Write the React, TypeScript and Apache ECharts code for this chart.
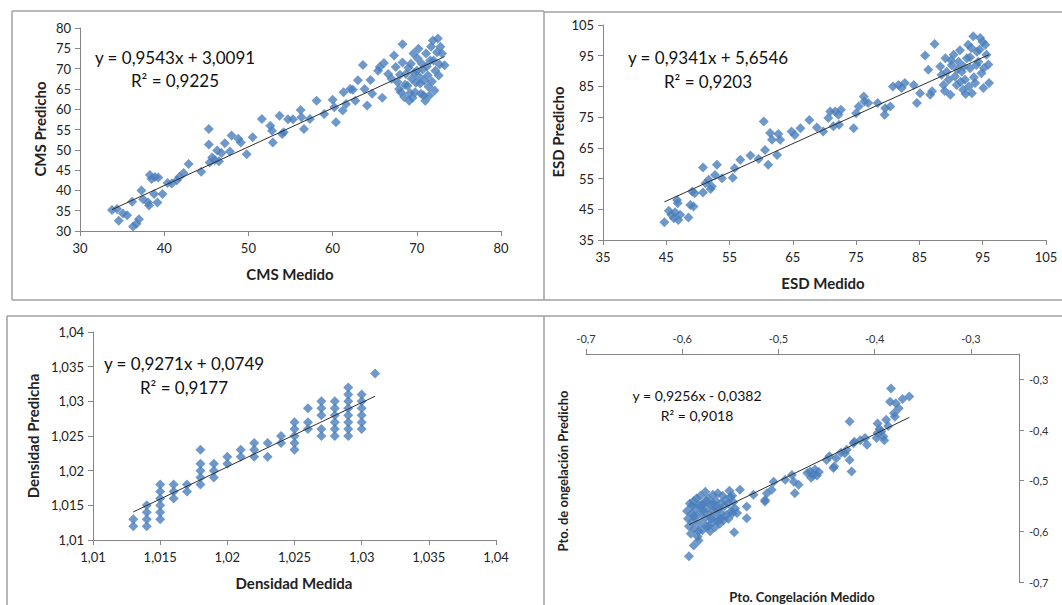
import React, { useEffect, useRef } from "react";
import * as echarts from "echarts";

// ---------- Panel 1: CMS (Medido, Predicho) ----------
const cmsPoints: number[][] = [
  [33.8, 35.2], [34.4, 35.4], [34.6, 32.5], [35.1, 34.3], [35.6, 33.9], [36.2, 37.2], [36.3, 31.1], [36.7, 31.8],
  [37.0, 32.9], [37.3, 40.0], [37.5, 37.8], [38.1, 37.0], [38.2, 36.3], [38.3, 43.8], [38.5, 42.8], [38.8, 39.1],
  [38.9, 43.3], [39.2, 37.0], [39.3, 43.2], [39.8, 39.1], [40.4, 41.8], [40.9, 41.7], [41.5, 42.5], [41.8, 43.3],
  [42.3, 44.3], [42.9, 46.5], [44.4, 44.6], [45.3, 55.1], [45.3, 51.3], [45.4, 46.9], [45.7, 48.1], [46.0, 47.5],
  [46.3, 49.8], [46.5, 47.2], [46.8, 49.2], [47.2, 51.6], [47.8, 49.6], [48.0, 53.5], [48.8, 52.7], [49.1, 51.8],
  [49.8, 48.9], [50.5, 53.1], [51.6, 57.6], [52.6, 55.9], [52.8, 54.7], [52.9, 51.8], [53.7, 58.4], [54.0, 53.9],
  [54.2, 54.3], [54.7, 57.5], [55.3, 57.5], [56.2, 59.8], [56.3, 58.0], [56.6, 55.1], [57.3, 57.6], [58.1, 62.1],
  [59.0, 58.8], [60.0, 62.3], [60.2, 60.5], [60.4, 56.8], [61.2, 59.7], [61.3, 64.2], [61.6, 61.3], [62.1, 65.0],
  [62.4, 64.8], [62.7, 62.1], [63.0, 67.1], [63.6, 70.9], [63.8, 65.0], [64.1, 60.9], [64.5, 67.2], [64.7, 63.8],
  [65.4, 69.5], [65.6, 70.4], [65.9, 62.8], [66.1, 71.4], [66.6, 68.7], [67.0, 67.5], [67.3, 73.2], [68.3, 76.0],
  [67.5, 70.4], [67.7, 66.7], [67.9, 65.0], [68.1, 64.2], [68.0, 68.5], [68.3, 71.5], [68.5, 63.0], [68.6, 66.0],
  [68.7, 68.7], [68.9, 65.8], [69.0, 70.2], [69.1, 62.1], [69.2, 64.0], [69.3, 71.2], [69.4, 67.5], [69.5, 62.8],
  [69.6, 73.7], [69.7, 69.0], [69.8, 64.2], [69.9, 66.5], [70.0, 69.5], [70.1, 72.5], [70.2, 74.9], [70.3, 68.0],
  [70.4, 66.3], [70.5, 63.8], [70.6, 71.2], [70.7, 69.8], [70.8, 63.4], [70.9, 67.0], [71.0, 62.1], [71.1, 73.7],
  [71.2, 70.5], [71.3, 68.3], [71.4, 65.5], [71.5, 63.4], [71.6, 72.0], [71.7, 75.4], [71.8, 66.8], [71.9, 76.9],
  [72.0, 72.0], [72.1, 64.6], [72.2, 69.5], [72.4, 74.0], [72.5, 77.4], [72.6, 68.3], [72.8, 75.4], [73.0, 73.7],
  [73.3, 70.8], [72.7, 71.0],
];

// ---------- Panel 2: ESD ----------
const esdPoints: number[][] = [
  [44.7, 40.8], [45.4, 44.5], [45.8, 43.2], [46.2, 42.1], [46.4, 44.0], [46.7, 48.0], [46.8, 47.0], [46.9, 41.5],
  [47.2, 43.2], [48.5, 42.3], [48.8, 46.4], [49.3, 45.9], [49.1, 50.8], [49.5, 50.2], [50.8, 58.6], [50.8, 50.5],
  [51.2, 53.5], [51.7, 54.6], [52.0, 51.6], [52.2, 52.4], [53.0, 59.5], [52.7, 56.2], [53.8, 55.1], [55.5, 55.3],
  [55.8, 58.4], [56.7, 61.1], [58.3, 62.5], [59.6, 61.4], [60.4, 73.6], [60.6, 64.3], [61.1, 59.5], [61.4, 69.8],
  [61.7, 67.6], [62.5, 62.7], [62.7, 69.5], [63.0, 67.6], [64.8, 70.3], [65.3, 69.2], [66.2, 71.4], [67.6, 74.1],
  [68.8, 71.6], [69.8, 70.3], [70.6, 74.7], [70.9, 76.8], [71.4, 72.0], [71.7, 76.8], [72.2, 75.8], [72.6, 77.4],
  [72.3, 72.5], [74.6, 71.4], [75.0, 76.3], [75.4, 78.5], [76.2, 81.7], [76.3, 80.1], [76.9, 79.6], [78.4, 79.6],
  [79.5, 75.8], [79.6, 77.9], [80.4, 78.5], [80.8, 85.0], [81.7, 85.5], [82.2, 84.5], [82.7, 86.1], [84.1, 85.5],
  [84.6, 79.6], [85.1, 82.8], [85.9, 95.1], [86.7, 82.3], [87.0, 83.4], [87.4, 98.8], [86.4, 90.4],
  [88.3, 91.5], [88.5, 88.8], [88.8, 85.5], [89.1, 94.2], [89.3, 89.8], [89.6, 87.2], [89.9, 82.3], [90.1, 91.9],
  [90.4, 95.3], [90.6, 88.2], [90.9, 85.5], [91.2, 93.0], [91.4, 96.8], [91.7, 89.8], [91.9, 83.9], [92.2, 87.2],
  [92.5, 94.2], [92.7, 98.6], [93.0, 90.9], [93.3, 82.8], [93.5, 101.3], [93.8, 86.1], [94.1, 96.3], [94.3, 93.0],
  [94.6, 100.8], [94.8, 89.3], [95.1, 84.5], [95.4, 98.6], [95.6, 95.3], [95.9, 92.1], [96.0, 86.1], [91.0, 90.5],
  [92.0, 91.5], [93.0, 94.5], [93.6, 88.0], [94.0, 92.0], [92.8, 85.0], [91.5, 86.5], [90.0, 93.5], [94.5, 97.0],
  [95.2, 91.0], [93.2, 97.5], [89.0, 83.5], [92.3, 82.5], [95.0, 99.5],
];

// ---------- Panel 3: Densidad ----------
const densPoints: number[][] = [
  [1.013, 1.013], [1.013, 1.012],
  [1.014, 1.015], [1.014, 1.014], [1.014, 1.013], [1.014, 1.012],
  [1.015, 1.018], [1.015, 1.017], [1.015, 1.016], [1.015, 1.015], [1.015, 1.014], [1.015, 1.013],
  [1.016, 1.018], [1.016, 1.017], [1.016, 1.016],
  [1.017, 1.018], [1.017, 1.017],
  [1.018, 1.023], [1.018, 1.021], [1.018, 1.020], [1.018, 1.019], [1.018, 1.018],
  [1.019, 1.021], [1.019, 1.020], [1.019, 1.019],
  [1.020, 1.022], [1.020, 1.021],
  [1.021, 1.023], [1.021, 1.022],
  [1.022, 1.024], [1.022, 1.023], [1.022, 1.022],
  [1.023, 1.024], [1.023, 1.022],
  [1.024, 1.025], [1.024, 1.024],
  [1.025, 1.027], [1.025, 1.026], [1.025, 1.025], [1.025, 1.024], [1.025, 1.023],
  [1.026, 1.029], [1.026, 1.027], [1.026, 1.026],
  [1.027, 1.030], [1.027, 1.029], [1.027, 1.028], [1.027, 1.026], [1.027, 1.025],
  [1.028, 1.030], [1.028, 1.029], [1.028, 1.028], [1.028, 1.027], [1.028, 1.026], [1.028, 1.025],
  [1.029, 1.032], [1.029, 1.031], [1.029, 1.030], [1.029, 1.029], [1.029, 1.028], [1.029, 1.027], [1.029, 1.026], [1.029, 1.025],
  [1.030, 1.031], [1.030, 1.030], [1.030, 1.029], [1.030, 1.028], [1.030, 1.027], [1.030, 1.026],
  [1.031, 1.034],
];

// ---------- Panel 4: Punto de congelación ----------
const congPoints: number[][] = [
  [-0.593, -0.649], [-0.588, -0.628], [-0.583, -0.618], [-0.546, -0.602], [-0.533, -0.574], [-0.533, -0.551],
  [-0.540, -0.518], [-0.543, -0.564], [-0.526, -0.528], [-0.514, -0.541], [-0.512, -0.525], [-0.505, -0.502],
  [-0.507, -0.518], [-0.493, -0.498], [-0.486, -0.489], [-0.483, -0.525], [-0.479, -0.508], [-0.467, -0.482],
  [-0.464, -0.489], [-0.470, -0.485], [-0.462, -0.478], [-0.460, -0.490], [-0.466, -0.494], [-0.458, -0.483],
  [-0.450, -0.459], [-0.443, -0.475], [-0.440, -0.456], [-0.429, -0.439], [-0.426, -0.383], [-0.424, -0.482],
  [-0.426, -0.459], [-0.422, -0.426], [-0.410, -0.416], [-0.408, -0.429], [-0.398, -0.416], [-0.397, -0.387],
  [-0.393, -0.403], [-0.391, -0.413], [-0.388, -0.380], [-0.383, -0.318], [-0.384, -0.344], [-0.379, -0.374],
  [-0.378, -0.347], [-0.375, -0.357], [-0.380, -0.367], [-0.371, -0.339], [-0.364, -0.334],
  [-0.514, -0.538], [-0.484, -0.502], [-0.447, -0.452], [-0.442, -0.472], [-0.431, -0.446], [-0.421, -0.423],
  [-0.397, -0.406], [-0.390, -0.420], [-0.386, -0.392], [-0.395, -0.398], [-0.415, -0.420], [-0.435, -0.445],
  [-0.595, -0.560], [-0.594, -0.575], [-0.593, -0.590], [-0.592, -0.545], [-0.591, -0.605], [-0.590, -0.565],
  [-0.589, -0.580], [-0.588, -0.540], [-0.587, -0.595], [-0.586, -0.555], [-0.585, -0.570], [-0.584, -0.610],
  [-0.583, -0.548], [-0.582, -0.585], [-0.581, -0.530], [-0.580, -0.562], [-0.579, -0.598], [-0.578, -0.545],
  [-0.577, -0.575], [-0.576, -0.522], [-0.575, -0.590], [-0.574, -0.555], [-0.573, -0.535], [-0.572, -0.568],
  [-0.571, -0.600], [-0.570, -0.548], [-0.569, -0.582], [-0.568, -0.528], [-0.567, -0.560], [-0.566, -0.592],
  [-0.565, -0.540], [-0.564, -0.572], [-0.563, -0.525], [-0.562, -0.555], [-0.561, -0.585], [-0.560, -0.545],
  [-0.559, -0.565], [-0.558, -0.530], [-0.557, -0.578], [-0.556, -0.550], [-0.555, -0.538], [-0.554, -0.568],
  [-0.552, -0.545], [-0.550, -0.532], [-0.549, -0.560], [-0.547, -0.542], [-0.545, -0.555], [-0.590, -0.550],
  [-0.585, -0.535], [-0.580, -0.548], [-0.575, -0.540], [-0.570, -0.575], [-0.565, -0.555], [-0.560, -0.575],
  [-0.588, -0.570], [-0.578, -0.560], [-0.568, -0.545], [-0.583, -0.600], [-0.573, -0.590], [-0.563, -0.580],
  [-0.551, -0.520], [-0.548, -0.530], [-0.552, -0.575], [-0.548, -0.565],
];

// Trend lines (Excel linear fits, drawn over the data's x range)
const trendSlopes = [0.9543, 0.9341, 0.9271, 0.9256];
const trendIntercepts = [3.0091, 5.6546, 0.0749, -0.0382];
const trendXRanges = [[33.8, 73.3], [44.7, 96.0], [1.013, 1.031], [-0.593, -0.364]];

const equations = ["y = 0,9543x + 3,0091", "y = 0,9341x + 5,6546", "y = 0,9271x + 0,0749", "y = 0,9256x - 0,0382"];
const r2Labels = ["R² = 0,9225", "R² = 0,9203", "R² = 0,9177", "R² = 0,9018"];
const xTitles = ["CMS Medido", "ESD Medido", "Densidad Medida", "Pto. Congelación Medido"];
const yTitles = ["CMS Predicho", "ESD Predicho", "Densidad Predicha", "Pto. de ongelación Predicho"];

const FONT = "Lato, 'Open Sans', sans-serif";
const BLUE = "#4a7ebb";
const AXIS = "#868686";
const BORDER = "#a0a0a0";

const fmt = (dec: number) => (v: number) => String(+v.toFixed(dec)).replace(".", ",");

function axisBase(extra: any, labelSize: number) {
  return {
    type: "value",
    splitLine: { show: false },
    axisLine: { show: true, onZero: false, lineStyle: { color: AXIS, width: 1 } },
    axisTick: { show: true, length: 5, lineStyle: { color: AXIS } },
    axisLabel: { color: "#222", fontSize: labelSize, fontFamily: FONT, margin: 9 },
    ...extra,
  };
}

export default function App() {
  const ref = useRef<HTMLDivElement>(null);

  useEffect(() => {
    if (!ref.current) return;
    const chart = echarts.init(ref.current, undefined, { renderer: "svg" });

    const datasets = [cmsPoints, esdPoints, densPoints, congPoints];

    const grids = [
      { left: 80, top: 28, width: 421, height: 203 },
      { left: 603, top: 25, width: 443, height: 215 },
      { left: 93, top: 332, width: 403, height: 208 },
      { left: 586, top: 354, width: 433, height: 228 },
    ];

    const xAxes = [
      axisBase({ gridIndex: 0, min: 30, max: 80, interval: 10, axisLabel: { color: "#222", fontSize: 13, fontFamily: FONT, margin: 10 } }, 13),
      axisBase({ gridIndex: 1, min: 35, max: 105, interval: 10, axisLabel: { color: "#222", fontSize: 13, fontFamily: FONT, margin: 10 } }, 13),
      axisBase({ gridIndex: 2, min: 1.01, max: 1.04, interval: 0.005, axisLabel: { color: "#222", fontSize: 13, fontFamily: FONT, margin: 10, formatter: fmt(3) } }, 13),
      axisBase({
        gridIndex: 3, min: -0.7, max: -0.25, interval: 0.1, position: "top",
        axisLabel: { color: "#333", fontSize: 11, fontFamily: FONT, margin: 10, formatter: fmt(1), showMaxLabel: false },
      }, 11),
    ];

    const yAxes = [
      axisBase({ gridIndex: 0, min: 30, max: 80, interval: 5, axisLabel: { color: "#222", fontSize: 13, fontFamily: FONT, margin: 9 } }, 13),
      axisBase({ gridIndex: 1, min: 35, max: 105, interval: 10, axisLabel: { color: "#222", fontSize: 13, fontFamily: FONT, margin: 9 } }, 13),
      axisBase({ gridIndex: 2, min: 1.01, max: 1.04, interval: 0.005, axisLabel: { color: "#222", fontSize: 13, fontFamily: FONT, margin: 9, formatter: fmt(3) } }, 13),
      axisBase({
        gridIndex: 3, min: -0.7, max: -0.25, interval: 0.1, position: "right",
        axisLabel: { color: "#333", fontSize: 11, fontFamily: FONT, margin: 10, formatter: fmt(1), showMaxLabel: false },
      }, 11),
    ];

    const series: any[] = [];
    datasets.forEach((pts, i) => {
      series.push({
        type: "scatter",
        xAxisIndex: i,
        yAxisIndex: i,
        data: pts,
        symbol: "diamond",
        symbolSize: 10,
        itemStyle: { color: BLUE },
        z: 2,
      });
      const [x0, x1] = trendXRanges[i];
      series.push({
        type: "line",
        xAxisIndex: i,
        yAxisIndex: i,
        data: [
          [x0, trendSlopes[i] * x0 + trendIntercepts[i]],
          [x1, trendSlopes[i] * x1 + trendIntercepts[i]],
        ],
        symbol: "none",
        lineStyle: { color: "#2f2f2f", width: 1 },
        z: 3,
      });
    });

    const eqPos = [
      { x: 175, y1: 57, y2: 80, size: 17 },
      { x: 708, y1: 57, y2: 81, size: 17 },
      { x: 184, y1: 363, y2: 387, size: 17 },
      { x: 697, y1: 395, y2: 415, size: 14 },
    ];
    const xTitlePos = [
      { x: 290, y: 274, size: 15 },
      { x: 823, y: 283, size: 15 },
      { x: 294, y: 583, size: 15 },
      { x: 802, y: 597, size: 13 },
    ];
    const yTitlePos = [
      { x: 40, y: 129, size: 15 },
      { x: 558, y: 132, size: 15 },
      { x: 33, y: 436, size: 15 },
      { x: 563, y: 471, size: 13 },
    ];

    const graphics: any[] = [];
    const line = (x1: number, y1: number, x2: number, y2: number) => ({
      type: "line",
      shape: { x1, y1, x2, y2 },
      style: { stroke: BORDER, lineWidth: 1.5 },
      silent: true,
    });
    graphics.push(line(12, 11, 544, 11));
    graphics.push(line(12, 11, 12, 300));
    graphics.push(line(12, 300, 1062, 300));
    graphics.push(line(544, 12, 1062, 12));
    graphics.push(line(544, 11, 544, 300));
    graphics.push(line(7, 316, 1062, 316));
    graphics.push(line(7, 316, 7, 605));
    graphics.push(line(544, 316, 544, 605));

    for (let i = 0; i < 4; i++) {
      graphics.push({
        type: "text",
        x: eqPos[i].x,
        y: eqPos[i].y1,
        style: { text: equations[i], fill: "#111", font: `${eqPos[i].size}px ${FONT}`, align: "center", verticalAlign: "middle" },
      });
      graphics.push({
        type: "text",
        x: eqPos[i].x,
        y: eqPos[i].y2,
        style: { text: r2Labels[i], fill: "#111", font: `${eqPos[i].size}px ${FONT}`, align: "center", verticalAlign: "middle" },
      });
      graphics.push({
        type: "text",
        x: xTitlePos[i].x,
        y: xTitlePos[i].y,
        style: { text: xTitles[i], fill: "#222", font: `bold ${xTitlePos[i].size}px ${FONT}`, align: "center", verticalAlign: "middle" },
      });
      graphics.push({
        type: "text",
        x: yTitlePos[i].x,
        y: yTitlePos[i].y,
        rotation: Math.PI / 2,
        style: { text: yTitles[i], fill: "#222", font: `bold ${yTitlePos[i].size}px ${FONT}`, align: "center", verticalAlign: "middle" },
      });
    }

    chart.setOption({
      animation: false,
      backgroundColor: "#ffffff",
      grid: grids,
      xAxis: xAxes,
      yAxis: yAxes,
      series,
      graphic: graphics,
    });

    return () => chart.dispose();
  }, []);

  return <div ref={ref} style={{ position: "fixed", left: 0, top: 0, width: 1062, height: 605 }} />;
}
